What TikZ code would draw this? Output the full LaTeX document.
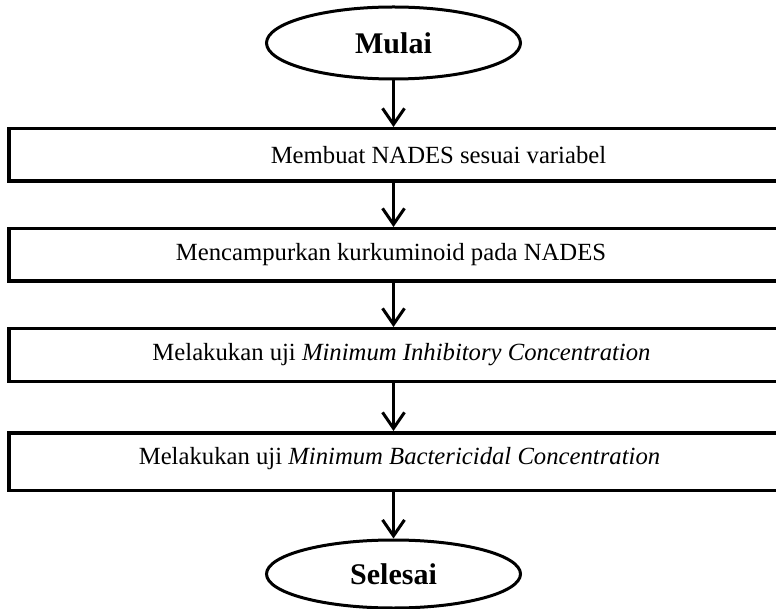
\documentclass[tikz,border=0pt]{standalone}
\usepackage{fontspec}
\setmainfont{Liberation Serif}
\usetikzlibrary{shapes.geometric,arrows.meta}
\begin{document}
\begin{tikzpicture}[x=1pt,y=1pt,
  stepbox/.style={draw, line width=3.5pt, rectangle, anchor=west, minimum width=891pt, inner sep=0pt},
  term/.style={draw, line width=3pt, ellipse, inner sep=0pt, minimum width=254pt, minimum height=72pt,
     font=\fontsize{30}{36}\selectfont\bfseries},
  txt/.style={inner sep=0pt, font=\fontsize{24.7}{30}\selectfont},
  arr/.style={line width=3pt, -{Straight Barb[length=16pt,width=22pt,line width=3pt]}}
]
\useasboundingbox (0,0) rectangle (776,-609);
\clip (0,0) rectangle (776,-609);
\node[term] (start) at (393.5,-43) {Mulai};
\node[stepbox, minimum height=52.5pt] (b1) at (7,-155) {};
\node[stepbox, minimum height=52.5pt] (b2) at (7,-255) {};
\node[stepbox, minimum height=52.5pt] (b3) at (7,-355) {};
\node[stepbox, minimum height=57.5pt] (b4) at (7,-461.5) {};
\node[term, minimum height=68pt] (end) at (393.5,-574) {Selesai};
\node[txt] (t1) at (438.5,-155) {Membuat NADES sesuai variabel};
\node[txt] (t2) at (391,-255) {Mencampurkan kurkuminoid pada NADES};
\node[txt] (t3) at (401.5,-355) {Melakukan uji \textit{Minimum Inhibitory Concentration}};
\node[txt] (t4) at (399.5,-459) {Melakukan uji \textit{Minimum Bactericidal Concentration}};
\draw[arr] (start.south) -- (start.south |- b1.north);
\draw[arr] (start.south |- b1.south) -- (start.south |- b2.north);
\draw[arr] (start.south |- b2.south) -- (start.south |- b3.north);
\draw[arr] (start.south |- b3.south) -- (start.south |- b4.north);
\draw[arr] (start.south |- b4.south) -- (end.north);
\end{tikzpicture}
\end{document}
